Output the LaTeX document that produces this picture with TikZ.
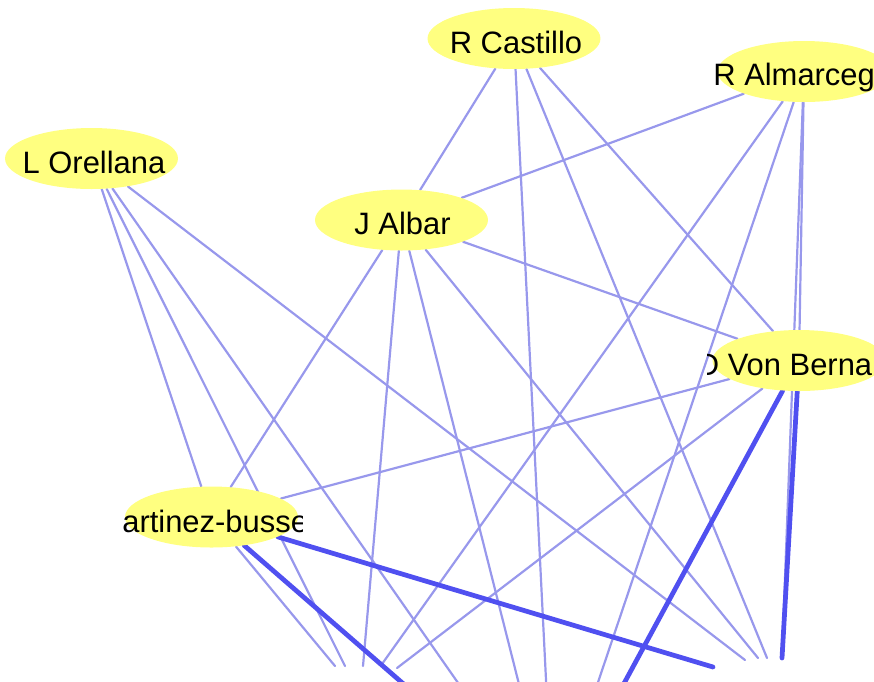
\documentclass[tikz,border=0pt]{standalone}
\usepackage{fontspec}
\setmainfont{Liberation Sans}
\usetikzlibrary{shapes.geometric,backgrounds}
\definecolor{nodeyellow}{RGB}{255,255,128}
\definecolor{tiethin}{RGB}{152,152,236}
\definecolor{tiethick}{RGB}{80,80,240}
\tikzset{
  person/.style={ellipse, fill=nodeyellow, minimum width=3.46cm, minimum height=1.22cm, inner sep=0pt},
  who/.style={anchor=base, inner sep=0pt, font=\fontsize{17.6}{21}\selectfont},
  tie/.style={draw=tiethin, line width=1.25pt, line cap=round},
  bigtie/.style={draw=tiethick, line width=2.7pt, line cap=round}
}
\begin{document}
\begin{tikzpicture}[x=0.02cm, y=-0.02cm]
\useasboundingbox (0,0) rectangle (874,681);
\clip (0,0) rectangle (874,681);

\node[person] (cas) at (514,38.5) {};
\node[person] (alm) at (804,71.5) {};
\node[person] (ore) at (91.5,158.5) {};
\node[person] (alb) at (401.5,220) {};
\node[person] (vb)  at (799,360.5) {};
\node[person] (mar) at (211.5,517) {};

% loose ends at the bottom, and ends below the picture
\coordinate (s1) at (335,666);
\coordinate (s2) at (345,666);
\coordinate (s3) at (363,666);
\coordinate (s4) at (382,664);
\coordinate (s5) at (397,668);
\coordinate (r1) at (713,667);
\coordinate (r2) at (745,660);
\coordinate (r3) at (758,658);
\coordinate (r4) at (767,658);
\coordinate (r5) at (782,658);
\coordinate (o1) at (422,700);
\coordinate (o2) at (470,700);
\coordinate (o3) at (523,700);
\coordinate (o4) at (547,700);
\coordinate (o5) at (592,700);
\coordinate (o6) at (615,700);

\begin{pgfonlayer}{background}
\draw[tie] (cas) -- (alb);
\draw[tie] (cas) -- (o4);
\draw[tie] (cas) -- (r4);
\draw[tie] (cas) -- (vb);
\draw[tie] (alm) -- (alb);
\draw[tie] (alm) -- (s4);
\draw[tie] (alm) -- (o5);
\draw[tie] (alm) -- (vb);
\draw[tie] (alm) -- (r5);
\draw[tie] (ore) -- (mar);
\draw[tie] (ore) -- (s2);
\draw[tie] (ore) -- (o2);
\draw[tie] (ore) -- (r2);
\draw[tie] (alb) -- (mar);
\draw[tie] (alb) -- (s3);
\draw[tie] (alb) -- (o3);
\draw[tie] (alb) -- (r3);
\draw[tie] (alb) -- (vb);
\draw[tie] (mar) -- (vb);
\draw[tie] (mar) -- (s1);
\draw[tie] (vb) -- (s5);
\draw[bigtie] (mar) -- (r1);
\draw[bigtie] (mar) -- (o1);
\draw[bigtie] (vb) -- (o6);
\draw[bigtie] (vb) -- (r5);
\end{pgfonlayer}

\node[who] (castxt) at (516,53.5) {R Castillo};
\node[who] (albtxt) at (402.5,234) {J Albar};
\node[who] (oretxt) at (94,173) {L Orellana};
\node[who, anchor=base west] (almtxt) at (713,85.5) {R Almarceg};
\begin{scope}
\clip (707,330) rectangle (874,391);
\node[who, anchor=base west] (vbtxt) at (696.5,375) {D Von Berna};
\end{scope}
\begin{scope}
\clip (118,486) rectangle (302,548);
\node[who, anchor=base west] (martxt) at (122,532) {artinez-busse};
\end{scope}
\end{tikzpicture}
\end{document}
